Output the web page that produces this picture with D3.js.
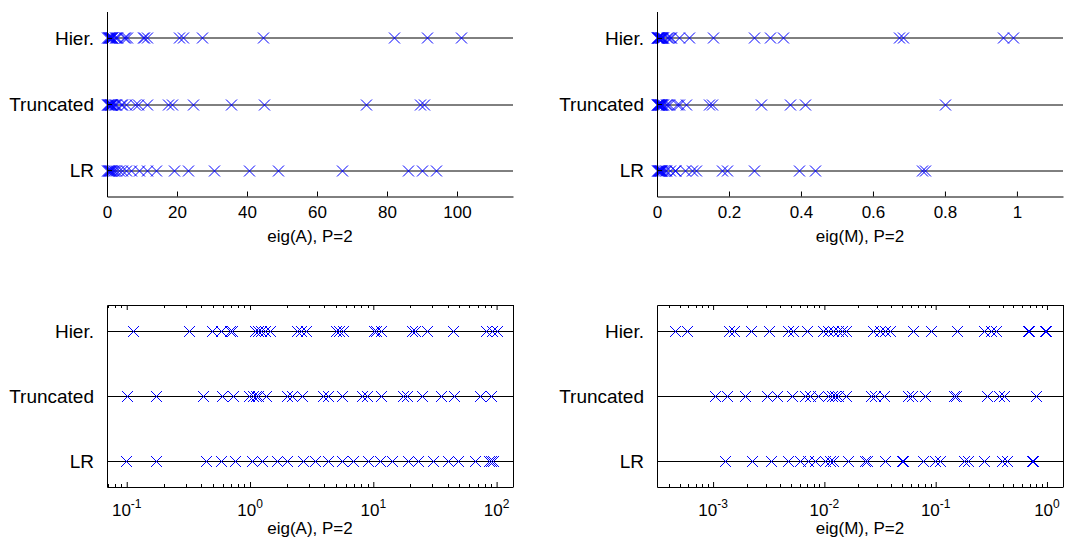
<!DOCTYPE html>
<html>
<head>
<meta charset="utf-8">
<script src="https://cdn.jsdelivr.net/npm/d3@7/dist/d3.min.js"></script>
<style>
body { margin: 0; background: #fff; }
text { font-family: "Liberation Sans", Arial, sans-serif; fill: #000; }
</style>
</head>
<body>
<svg id="fig" width="1065" height="541"></svg>
<script>
// row names, bottom to top
var rows = ['LR', 'Truncated', 'Hier.'];

// eigenvalues of A
var lrA = [0.098, 0.173, 0.44, 0.582, 0.756, 1.03, 1.24, 1.64, 1.98, 2.71, 3.37, 4.32, 5.54, 6.88, 9.12, 11.3, 14.1, 19.2, 23.2, 30.7, 40.5, 48.9, 67, 86, 90, 94];
var truncA = [0.101, 0.173, 0.418, 0.589, 0.733, 0.988, 1.06, 1.11, 1.17, 1.34, 1.98, 2.18, 2.62, 3.93, 4.32, 5.54, 8.05, 8.83, 11.5, 17.5, 18.7, 24.6, 35.5, 44.8, 74, 89.5, 90.5];
var hierA = [0.112, 0.322, 0.489, 0.582, 0.689, 0.719, 1.1, 1.17, 1.22, 1.32, 1.45, 2.42, 2.58, 2.83, 4.95, 5.27, 5.72, 10.2, 10.6, 11.5, 20.5, 21.8, 27.1, 44.6, 82, 91.5, 101];

// eigenvalues of M
var lrM = [0.00128, 0.00222, 0.00331, 0.00468, 0.00604, 0.00718, 0.00824, 0.0101, 0.0112, 0.012, 0.0162, 0.0232, 0.024, 0.035, 0.0495, 0.0512, 0.0774, 0.0986, 0.109, 0.18, 0.195, 0.27, 0.395, 0.44, 0.735, 0.745];
var truncM = [0.00104, 0.00132, 0.00194, 0.00303, 0.00373, 0.00508, 0.0067, 0.00743, 0.00882, 0.0108, 0.0116, 0.0124, 0.0133, 0.0158, 0.0262, 0.0285, 0.0345, 0.0567, 0.0608, 0.0801, 0.145, 0.152, 0.29, 0.37, 0.41, 0.8];
var hierM = [0.000455, 0.000579, 0.00139, 0.00155, 0.00219, 0.0032, 0.00468, 0.00526, 0.00702, 0.00977, 0.0108, 0.012, 0.0132, 0.0143, 0.0158, 0.0275, 0.0316, 0.035, 0.0388, 0.0621, 0.0902, 0.155, 0.27, 0.315, 0.35, 0.672, 0.683, 0.96, 0.99];

var linTicksA = [0, 20, 40, 60, 80, 100];
var linTicksM = [0, 0.2, 0.4, 0.6, 0.8, 1];
var logExpA = [-1, 0, 1, 2];
var logExpM = [-3, -2, -1, 0];
var xlabels = ['eig(A), P=2', 'eig(M), P=2'];

var svg = d3.select('#fig');

var panel = function(p) {
  var g = svg.append('g').attr('transform', 'translate(' + p.left + ',' + p.top + ')');
  var x = (p.log ? d3.scaleLog() : d3.scaleLinear()).domain(p.domain).range([0, p.width]);
  var y = d3.scaleLinear().domain([0.6, 3.4]).range([p.height, 0]);
  var ry = function(d) { return Math.round(y(d)) + 0.5; };

  // row lines
  g.selectAll('line.row')
    .data([1, 2, 3])
    .enter().append('line')
    .attr('class', 'row')
    .attr('x1', 0).attr('x2', p.width)
    .attr('y1', ry).attr('y2', ry)
    .attr('stroke', '#000')
    .attr('stroke-width', 1);

  // markers
  p.series.forEach(function(vals, i) {
    g.selectAll(null)
      .data(vals)
      .enter().append('path')
      .attr('transform', function(d) { return 'translate(' + (Math.round(x(d)) + 0.5) + ',' + ry(i + 1) + ')'; })
      .attr('d', 'M-5.5,-5.5L5.5,5.5M-5.5,5.5L5.5,-5.5')
      .attr('fill', 'none')
      .attr('stroke', '#0000ff')
      .attr('stroke-width', 1);
  });

  // bottom axis
  var xa = p.log ? d3.axisBottom(x).tickValues(p.ticks.map(function(e) { return Math.pow(10, e); })).tickFormat('')
                 : d3.axisBottom(x).tickValues(p.ticks).tickFormat(function(d) { return d; });
  var bx = g.append('g')
    .attr('transform', 'translate(0,' + p.height + ')')
    .call(xa.tickSizeInner(-5).tickSizeOuter(0).tickPadding(9));
  bx.selectAll('text').style('font-size', '17px');

  if (p.log) {
    var minor = [];
    var lo = Math.floor(Math.log10(p.domain[0])), hi = Math.ceil(Math.log10(p.domain[1]));
    for (var k = lo; k <= hi; k++) {
      for (var m = 2; m <= 9; m++) {
        var v = m * Math.pow(10, k);
        if (v > p.domain[0] && v < p.domain[1]) minor.push(v);
      }
    }
    [0, p.height].forEach(function(yy) {
      g.selectAll(null)
        .data(minor)
        .enter().append('line')
        .attr('x1', function(d) { return Math.round(x(d)) + 0.5; })
        .attr('x2', function(d) { return Math.round(x(d)) + 0.5; })
        .attr('y1', yy)
        .attr('y2', yy === 0 ? 3 : yy - 3)
        .attr('stroke', '#000');
    });
    var lab = g.selectAll('text.exp')
      .data(p.ticks)
      .enter().append('text')
      .attr('class', 'exp')
      .attr('x', function(d) { return x(Math.pow(10, d)); })
      .attr('y', p.height + 29)
      .attr('text-anchor', 'middle')
      .style('font-size', '17px');
    lab.append('tspan').text('10');
    lab.append('tspan')
      .attr('dy', -8)
      .style('font-size', '12px')
      .text(function(d) { return d; });
  }

  // left axis with row names
  var ly = g.append('g')
    .call(d3.axisLeft(y).tickValues([1, 2, 3]).tickFormat(function(d) { return rows[d - 1]; })
      .tickSizeInner(-5).tickSizeOuter(0).tickPadding(13));
  ly.selectAll('text').style('font-size', '19px');

  if (p.box) {
    g.append('g')
      .call(d3.axisTop(x).tickValues(p.log ? p.ticks.map(function(e) { return Math.pow(10, e); }) : p.ticks)
        .tickFormat('').tickSizeInner(-5).tickSizeOuter(0));
    g.append('line')
      .attr('x1', p.width + 0.5).attr('x2', p.width + 0.5)
      .attr('y1', 0).attr('y2', p.height)
      .attr('stroke', '#000');
  }

  g.append('text')
    .attr('x', p.width / 2)
    .attr('y', p.height + (p.log ? 47 : 45))
    .attr('text-anchor', 'middle')
    .style('font-size', '17px')
    .text(p.xlabel);
};

panel({left: 107, top: 11.5, width: 406, height: 185, log: false, box: false,
  domain: [0, 116], ticks: linTicksA, series: [lrA, truncA, hierA], xlabel: xlabels[0]});
panel({left: 657, top: 11.5, width: 406, height: 185, log: false, box: false,
  domain: [0, 1.128], ticks: linTicksM, series: [lrM, truncM, hierM], xlabel: xlabels[1]});
panel({left: 107, top: 305, width: 406, height: 182, log: true, box: true,
  domain: [Math.pow(10, -1.16), Math.pow(10, 2.133)], ticks: logExpA, series: [lrA, truncA, hierA], xlabel: xlabels[0]});
panel({left: 657, top: 305, width: 406, height: 182, log: true, box: true,
  domain: [Math.pow(10, -3.504), Math.pow(10, 0.144)], ticks: logExpM, series: [lrM, truncM, hierM], xlabel: xlabels[1]});
</script>
</body>
</html>
